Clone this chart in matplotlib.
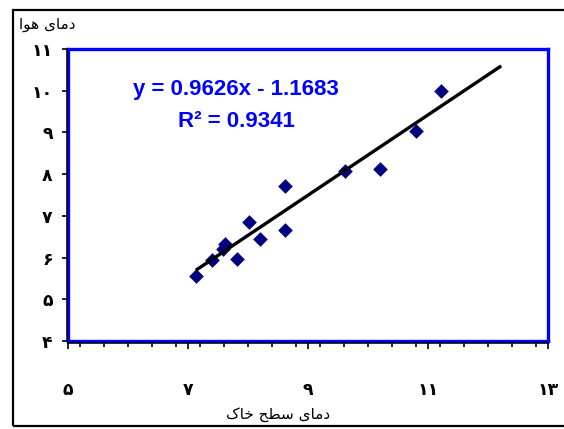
import matplotlib
matplotlib.use('Agg')
import matplotlib.pyplot as plt
import matplotlib.patches as patches
from matplotlib.ticker import FixedLocator, MultipleLocator, FixedFormatter
from matplotlib.transforms import offset_copy

# soil surface temperature vs air temperature
soil_temp = [7.13, 7.40, 7.62, 7.58, 7.82, 8.02, 8.20, 8.62, 8.62, 9.62, 10.20, 10.80, 11.22]
air_temp = [5.57, 5.94, 6.33, 6.20, 5.96, 6.86, 6.45, 6.66, 7.72, 8.08, 8.12, 9.04, 10.00]

# excel linear trendline (forecast forward 1 unit)
slope = 0.9626
intercept = -1.1683
r_squared = 0.9341
forecast = 1.0

x_ticks = [5, 7, 9, 11, 13]
x_tick_labels = ['۵', '۷', '۹', '۱۱', '۱۳']
y_ticks = [4, 5, 6, 7, 8, 9, 10, 11]
y_tick_labels = ['۴', '۵', '۶', '۷', '۸', '۹', '۱۰', '۱۱']

# persian labels written in presentation forms, visual order (no shaping in matplotlib)
y_title = 'ﺍﻮﻫ ﯼﺎﻣﺩ'        # دمای هوا
x_title = 'ﮎﺎﺧ ﺢﻄﺳ ﯼﺎﻣﺩ'    # دمای سطح خاک

W, H = 564, 429
fig = plt.figure(figsize=(W / 100, H / 100), dpi=100)
fig.patch.set_facecolor('white')

left, right, bottom, top = 68, 548, 341, 49
ax = fig.add_axes([left / W, 1 - bottom / H, (right - left) / W, (bottom - top) / H])

ax.set_xlim(5, 13)
ax.set_ylim(4, 11)

ax.scatter(soil_temp, air_temp, marker='D', s=56, color='#000080', zorder=3, linewidths=0)

x0 = min(soil_temp)
x1 = max(soil_temp) + forecast
ax.plot([x0, x1], [slope * x0 + intercept, slope * x1 + intercept],
        color='black', lw=2.4, zorder=4, solid_capstyle='butt')

eq = 'y = %.4fx - %.4f' % (slope, -intercept)
ax.text(0.35, 0.86, eq, transform=ax.transAxes, ha='center', va='center',
        fontsize=16, fontweight='bold', color='#0000FF', family='Liberation Sans')
ax.text(0.35, 0.75, 'R² = %.4f' % r_squared, transform=ax.transAxes, ha='center', va='center',
        fontsize=16, fontweight='bold', color='#0000FF', family='Liberation Sans')

for s in ax.spines.values():
    s.set_color('#0000FF')
    s.set_linewidth(2.4)

# black axis lines just outside the blue border
ax.plot([0, 1], [0, 0], transform=offset_copy(ax.transAxes, fig, x=0, y=-1.5, units='dots'),
        color='black', lw=1.1, clip_on=False, zorder=5)
ax.plot([0, 0], [0, 1], transform=offset_copy(ax.transAxes, fig, x=-1.5, y=0, units='dots'),
        color='black', lw=1.1, clip_on=False, zorder=5)

ax.xaxis.set_major_locator(FixedLocator(x_ticks))
ax.xaxis.set_major_formatter(FixedFormatter(x_tick_labels))
ax.xaxis.set_minor_locator(MultipleLocator(0.4))
ax.yaxis.set_major_locator(FixedLocator(y_ticks))
ax.yaxis.set_major_formatter(FixedFormatter(y_tick_labels))

ax.tick_params(axis='x', which='major', direction='out', length=5.5, width=1.2, color='black',
               pad=23, labelsize=12.5)
ax.tick_params(axis='x', which='minor', direction='out', length=4, width=1.2, color='black')
ax.tick_params(axis='y', which='major', direction='out', length=4, width=1.2, color='black',
               pad=7, labelsize=12.5)
for lab in ax.get_xticklabels() + ax.get_yticklabels():
    lab.set_fontweight('bold')
    lab.set_family('DejaVu Sans')

fig.text(47 / W, 1 - 25 / H, y_title, ha='center', va='center', fontsize=11, family='DejaVu Sans')
fig.text(278 / W, 1 - 414 / H, x_title, ha='center', va='center', fontsize=11, family='DejaVu Sans')

# chart frame
fig.patches.append(patches.Rectangle((13 / W, 1 - 426 / H), (570 - 13) / W, (426 - 10) / H,
                                     transform=fig.transFigure, fill=False, ec='black', lw=1.6))

fig.savefig('out.png', dpi=100)
